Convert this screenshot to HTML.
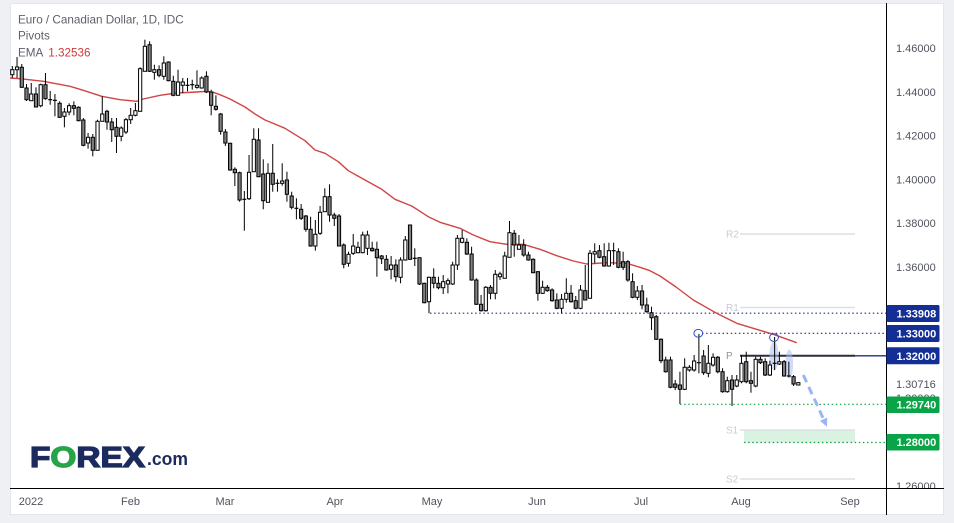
<!DOCTYPE html>
<html><head><meta charset="utf-8">
<style>
html,body{margin:0;padding:0;width:954px;height:523px;overflow:hidden;background:#eef0f4;}
svg{display:block;font-family:"Liberation Sans",sans-serif;}
</style></head>
<body>
<svg width="954" height="523" viewBox="0 0 954 523" xmlns="http://www.w3.org/2000/svg">
<defs>
<clipPath id="plot"><rect x="10" y="3" width="876" height="485"/></clipPath>
<clipPath id="axis"><rect x="887" y="3" width="57" height="485"/></clipPath>
</defs>
<rect x="10.5" y="3.5" width="933" height="511" fill="#fff" stroke="#e3e6ec"/>

<g clip-path="url(#plot)">
<rect x="744" y="430" width="111" height="12.5" fill="#d9f2e2"/>
<g stroke="#dcdfe5" stroke-width="1.5">
<line x1="740" y1="234" x2="855" y2="234"/>
<line x1="740" y1="307.5" x2="855" y2="307.5"/>
<line x1="740" y1="430" x2="855" y2="430"/>
<line x1="740" y1="479" x2="855" y2="479"/>
</g>
<g font-size="10" fill="#c9ccd3">
<text x="726" y="237.5">R2</text>
<text x="726" y="311">R1</text>
<text x="726" y="433.5">S1</text>
<text x="726" y="482.5">S2</text>
</g>
<text x="726" y="359" font-size="10" fill="#8f929a">P</text>
<line x1="740" y1="355.8" x2="886" y2="355.8" stroke="#1a2f85" stroke-width="1.3"/>
<line x1="740" y1="355.8" x2="855" y2="355.8" stroke="#2a2e39" stroke-width="2"/>

<g stroke-width="1.2" stroke-dasharray="1.5,2.6" fill="none">
<line x1="430" y1="313.2" x2="886" y2="313.2" stroke="#1a2f85"/>
<line x1="702" y1="333.3" x2="886" y2="333.3" stroke="#1a2f85"/>
<line x1="680" y1="404.3" x2="886" y2="404.3" stroke="#12a045"/>
<line x1="744" y1="442.5" x2="886" y2="442.5" stroke="#12a045"/>
</g>

<path d="M10,78 L20,78.7 L43.3,81.3 L70,86.3 L83.3,90.3 L101.7,96.3 L120,99.7 L136.7,101.3 L143.3,99 L160,95.3 L176.7,93 L196.7,92 L206.7,91.3 L213.3,92.3 L220,94.7 L230,99 L245,107 L255,114 L265,120 L285,128.3 L305,140.7 L315,150 L325,153.3 L338.3,161.7 L348.3,170.7 L365,180 L381.7,189.3 L395,199.3 L411.7,206 L428.3,216.7 L440,222.3 L460,228.3 L473.3,235 L490,241.7 L506.7,244.3 L523.3,244.3 L540,249.3 L556.7,255.7 L573.3,261 L586.7,264 L606.7,262.7 L626.7,263.3 L640,267.3 L650,270.7 L660,276 L676,287 L693.3,300 L716.7,313.3 L736.7,323.3 L753.3,328.3 L773.3,334.3 L796.7,342.7" fill="none" stroke="#d04545" stroke-width="1.4" stroke-linejoin="round"/>

<ellipse cx="774" cy="356" rx="4.6" ry="14.5" fill="#a9c0f0" fill-opacity="0.55"/>
<ellipse cx="789.3" cy="364" rx="3.8" ry="14.5" fill="#a9c0f0" fill-opacity="0.55"/>

<g id="cd" stroke="#000" stroke-width="1"></g>

<ellipse cx="698.3" cy="333.3" rx="4.4" ry="3.9" fill="none" stroke="#2f52c4" stroke-width="1"/>
<ellipse cx="774" cy="337.5" rx="4.4" ry="3.9" fill="none" stroke="#2f52c4" stroke-width="1"/>

<line x1="803.3" y1="375" x2="823.6" y2="419.2" stroke="#9bb4f7" stroke-width="3" stroke-dasharray="8,5"/>
<polygon points="827,426.7 827.2,417.5 820,420.9" fill="#9bb4f7"/>
</g>

<line x1="886.5" y1="3" x2="886.5" y2="515" stroke="#000" stroke-width="1"/>
<line x1="10" y1="488.5" x2="944" y2="488.5" stroke="#000" stroke-width="1"/>

<g font-size="11.7" fill="#5d606b">
<text x="18" y="23.3">Euro / Canadian Dollar, 1D, IDC</text>
<text x="18" y="39.6">Pivots</text>
<text x="18" y="56.7">EMA <tspan x="48.3" fill="#cc3b3b">1.32536</tspan></text>
</g>

<text x="30" y="467" font-size="28.5" font-weight="bold" fill="#1c2b5e" stroke="#1c2b5e" stroke-width="1.3" textLength="115" lengthAdjust="spacingAndGlyphs">F<tspan fill="#27a348" stroke="#27a348">O</tspan>REX</text>
<text x="147" y="465" font-size="18" font-weight="bold" fill="#1c2b5e" textLength="41" lengthAdjust="spacingAndGlyphs">.com</text>

<g font-size="11" fill="#50535e" text-anchor="middle">
<text x="31" y="505">2022</text>
<text x="130.5" y="505">Feb</text>
<text x="225" y="505">Mar</text>
<text x="335" y="505">Apr</text>
<text x="432" y="505">May</text>
<text x="537" y="505">Jun</text>
<text x="641" y="505">Jul</text>
<text x="741" y="505">Aug</text>
<text x="850" y="505">Sep</text>
</g>

<g font-size="11" fill="#50535e" clip-path="url(#axis)">
<text x="896" y="52">1.46000</text>
<text x="896" y="95.8">1.44000</text>
<text x="896" y="139.6">1.42000</text>
<text x="896" y="183.4">1.40000</text>
<text x="896" y="227.1">1.38000</text>
<text x="896" y="270.9">1.36000</text>
<text x="896" y="388">1.30716</text>
<text x="896" y="402.2">1.30000</text>
<text x="896" y="489.8">1.26000</text>
</g>

<g font-size="11" font-weight="bold" fill="#fff">
<rect x="886.5" y="305" width="53" height="17" rx="1.5" fill="#132f96"/>
<text x="896.5" y="317.5">1.33908</text>
<rect x="886.5" y="325" width="53" height="17" rx="1.5" fill="#132f96"/>
<text x="896.5" y="337.5">1.33000</text>
<rect x="886.5" y="347.3" width="53" height="17" rx="1.5" fill="#132f96"/>
<text x="896.5" y="359.8">1.32000</text>
<rect x="886.5" y="396.5" width="53" height="16.5" rx="1.5" fill="#0aa448"/>
<text x="896.5" y="408.7">1.29740</text>
<rect x="886.5" y="434" width="53" height="16.5" rx="1.5" fill="#0aa448"/>
<text x="896.5" y="446.2">1.28000</text>
</g>
</svg>

<script>
var D=[
[74.7,69.7,66,78],[69.7,67,57,78],[67.3,87.3,64,88],[88,99.7,84,101],[100.7,94,83,100.7],
[94,107,87.3,107.3],[105.7,84.7,83.7,107.3],[84.7,98.7,73,99.7],[99.3,100,91,104.7],[100,100.7,94,116.3],
[103.3,117.3,101.3,118],[116.3,112,108,127.3],[112,105.7,103.3,115.3],[105.7,108.3,101.3,115.3],[107.3,120.7,106.3,121.3],
[120,145.3,118,146.3],[143,137.3,133,148.7],[137.3,150.3,134,156.3],[150.3,121.3,119.7,150.3],[121.3,114,96.3,121.3],
[111.3,122,109.7,129.7],[122,129.7,118,142],[127.3,136.3,118,153],[136.3,128,126.3,141.3],[132,119.7,118,134],
[119.7,115.3,108,124],[115.3,110.7,103,116.3],[111.3,68.7,67.3,111.3],[71.3,46.3,39.7,71.3],[44.7,71.3,41.3,72],
[72.3,69.7,64.7,79.7],[69.7,75.3,65.3,77.3],[76.3,63,56.3,79.7],[62,80.7,61.3,81.3],[81.3,95.3,75.7,96.3],
[95.3,82,69.7,95.3],[85.3,82,78,93],[85,85.6,78,91.3],[84.4,85,79.7,89.7],[87.3,85.3,70.3,88.7],
[88,78,76.3,88.7],[76.3,92,71.3,93],[92,105.3,89.7,115.3],[106.3,109.3,95.3,110.7],[114,131.3,113,134.7],
[132,143,129,146],[143.3,170,142.7,170.7],[169.3,172.7,167.3,186],[172.7,200,171.7,201.7],[199,199.6,191,230.7],
[198.7,172.3,155,200],[171.7,139.3,128.3,171.7],[140,176.7,128.3,177.3],[174,200.7,159.3,209.3],[202.3,173.3,163.3,202.3],
[173.3,184.3,144,191.7],[183,183.6,179.3,191.7],[183.3,181,163.3,185.7],[180,194.3,171.7,201.7],[196,207.3,191.7,209.3],
[208,208.6,198.3,219.3],[209.3,218.3,204,220],[216,229.3,215,231.7],[229.3,246,216.7,246.7],[246,234.3,220,250.7],
[233.3,212.3,206,235],[211.7,196.7,188.3,211.7],[196.7,215,184.3,221.7],[215,218.3,212.7,226],[216,246,214,246],
[245,264.3,243.3,268.3],[263.3,254.3,251.7,266.7],[253.3,246,234,255],[252.7,247.3,241.7,253.3],[252.7,235,231.7,253.3],
[248.3,235,230.7,255],[248.3,250.7,241.7,251.7],[249.3,257.7,241.7,276.7],[256,258.7,255,264],[259.3,270,255,270.7],
[269.3,265,256,279.3],[265,276.7,259.3,281.7],[277.3,260,257.3,283.3],[260,240,236,260.7],[225,259.3,225,260],
[258,258.6,248.3,266],[257.7,284,257.7,285],[283.3,302.7,282.7,303.3],[301.7,277.3,276.7,313.3],[277.3,283.3,268.3,288.3],
[283.3,287.7,276.7,289.3],[287.7,281.7,275,294],[284,280.7,278.3,293.3],[284,265,261.7,285],[265,238.3,235,270],
[242.3,238.3,230,243.3],[242.3,254,238.3,255],[254,280,246.7,280.7],[280,304.3,278.3,305],[304.3,310.7,295,311.7],
[310.7,287.3,286,311.7],[287.3,293.3,285,299.3],[293.3,274.3,270,299.3],[276.7,274,271.7,280],[278.3,256,251.7,278.3],
[257.3,232.7,221,257.3],[233.3,245,230,256.7],[249.3,245,235,249.3],[245,255,239.3,256.7],[255,260,251.7,260.7],
[259.3,272.7,258.3,273.3],[271.7,293.3,271,300.7],[293.3,287.3,280.7,294],[287.3,290.7,285,291.7],[290,300.7,288.3,301.7],
[300,308.3,293.3,309.3],[308.3,299.3,294,313.3],[299.3,293.3,278.3,302.7],[293.3,301.7,285,302.7],[300.7,308.3,296,309.3],
[308.3,290,285,309.3],[290.7,300,265,300],[298.3,253.3,250,298.3],[254,251.7,243.3,263.3],[250.7,257.3,245,258.3],
[256.7,266,243.3,266.7],[266,250.7,242.7,266.7],[250.4,251,242.7,265],[251.7,267.3,248.3,268.3],[261.7,267.3,251.7,270],
[261.7,280,260,281.7],[281.7,297.3,273.3,298.3],[297.3,291,286,300],[291,305,285,309.3],[305,311.7,297.7,312.7],
[312.7,317.7,306.7,330],[316.7,339.3,315,340],[339.3,360.7,338.3,363.3],[360,371.7,356.7,372.7],[360,387.3,356.7,388.3],
[384,387.3,380,390],[385,389.3,371.7,404],[389.3,367.3,358.3,390],[370,367.3,365,371.7],[370,361,355,371.7],
[362.4,363,334,373.3],[356,372.7,350,375],[373.3,363.3,345,377.3],[365,357.3,353.3,366.7],[357.3,371.7,356,373.3],
[371.7,391.7,368.3,392.7],[391.7,380.7,376.7,392.7],[380,389.3,375,406],[386,380,375,387.3],[381.7,363.3,355,383.3],
[361.7,381.7,351.7,383.3],[380.7,383.3,371.7,392.7],[386,359.3,356.7,387.3],[359.3,362.7,356.7,364],[361.7,375,358.3,376],
[375,365,360.7,376],[363,363.6,337,370],[364,361.7,351.7,365],[361.7,376,360,376.7],[375.7,376.3,361.7,377.3],
[376.7,384,375,386],[385,382.7,382,385.5]
];
var s='';
for(var i=0;i<D.length;i++){
  var x=12.3+i*4.735,o=D[i][0],c=D[i][1],h=D[i][2],l=D[i][3];
  s+='<line x1="'+x.toFixed(2)+'" y1="'+h+'" x2="'+x.toFixed(2)+'" y2="'+l+'"/>';
  var t=Math.min(o,c),ht=Math.abs(o-c);
  if(ht<1.2){
    s+='<rect x="'+(x-2).toFixed(2)+'" y="'+((o+c)/2-0.6).toFixed(2)+'" width="4" height="1.2" fill="#000" stroke="none"/>';
  } else {
    s+='<rect x="'+(x-1.6).toFixed(2)+'" y="'+t+'" width="3.2" height="'+ht.toFixed(2)+'" fill="'+(c<o?'#ffffff':'#808080')+'"/>';
  }
}
document.getElementById('cd').innerHTML=s;
</script>
</body></html>
